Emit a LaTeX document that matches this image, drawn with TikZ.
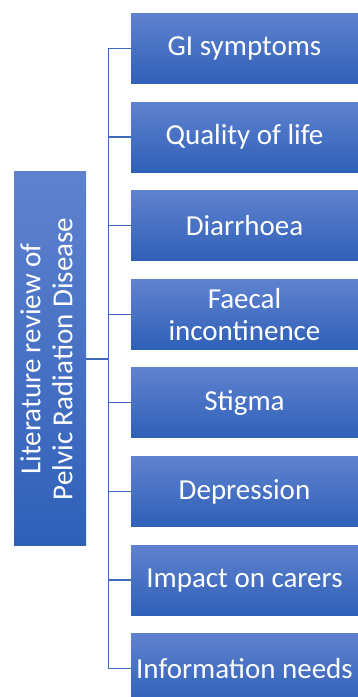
\documentclass[tikz,border=0pt]{standalone}
\usepackage{fontspec}
\setmainfont{Carlito}
\usetikzlibrary{positioning}

\definecolor{boxtop}{RGB}{95,130,207}
\definecolor{boxbot}{RGB}{47,96,184}
\definecolor{linkcol}{RGB}{62,104,184}

\tikzset{
  topic/.style={top color=boxtop,bottom color=boxbot,text=white,
    minimum width=227pt,minimum height=70pt,inner sep=0pt,align=center,
    font=\fontsize{29}{32}\selectfont},
  link/.style={draw=linkcol,line width=1.2pt}
}

\begin{document}
\begin{tikzpicture}[x=1pt,y=1pt]
\useasboundingbox (0,0) rectangle (358,697);
% main box on the left
\node[top color=boxtop,bottom color=boxbot,text=white,minimum width=72pt,
  minimum height=374pt,inner sep=0pt,font=\fontsize{29}{32}\selectfont]
  (review) at (50,338)
  {\rotatebox{90}{\begin{tabular}{@{}c@{}}Literature review of\\Pelvic Radiation Disease\end{tabular}}};
% topics
\foreach \i/\txt in {1/GI symptoms,2/Quality of life,3/Diarrhoea,
  4/{Faecal\\incontinence},5/Stigma,6/Depression,7/Impact on carers,
  8/Information needs}
  \node[topic] (t\i) at (244.5,{648.5-88.6*(\i-1)}) {\txt};
% connectors
\draw[link] (review.east) -- ++(22.5,0) coordinate (hub);
\draw[link] (hub |- t1.west) -- (hub |- t8.west);
\foreach \i in {1,...,8}
  \draw[link] (hub |- t\i.west) -- (t\i.west);
\end{tikzpicture}
\end{document}
